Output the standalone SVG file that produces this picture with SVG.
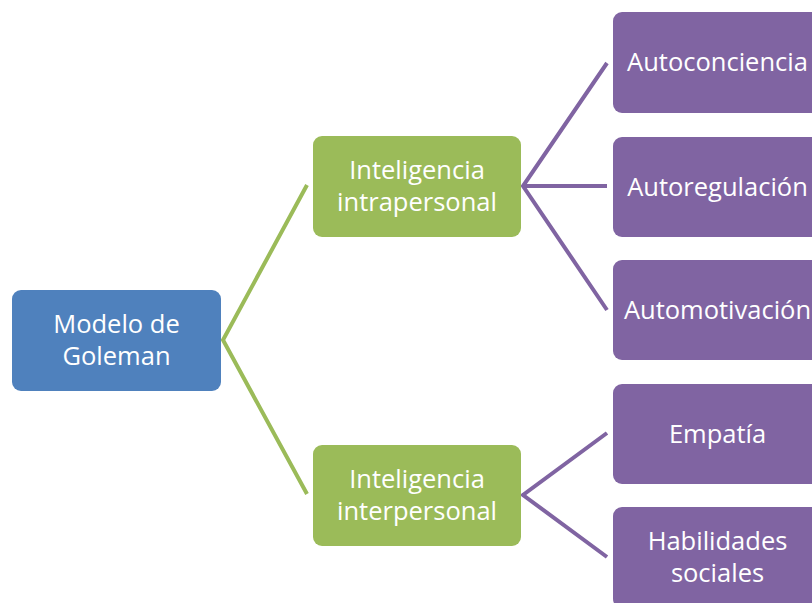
<svg xmlns="http://www.w3.org/2000/svg" width="812" height="603" viewBox="0 0 812 603">
<style>
.t{font-family:"Open Sans","Liberation Sans",sans-serif;font-size:25.5px;fill:#fff;text-anchor:middle}
.blue{fill:#4F81BD}
.green{fill:#9BBB59}
.purple{fill:#8064A2}
.cg{stroke:#9BBB59;stroke-width:4;fill:none;stroke-linejoin:miter}
.cp{stroke:#8064A2;stroke-width:4;fill:none;stroke-linejoin:miter}
</style>
<rect width="812" height="603" fill="#fff"/>
<g id="connectors">
<polyline class="cg" points="307,185 223,340 307,494"/>
<polyline class="cp" points="607,63 523,186 607,310"/>
<line class="cp" x1="523" y1="186" x2="607" y2="186"/>
<polyline class="cp" points="607,433 523,495 607,557"/>
</g>
<g id="modelo">
<rect class="blue" x="12" y="290" width="209" height="101" rx="9"/>
<text class="t" x="116.5" y="333">Modelo de</text>
<text class="t" x="116.5" y="365">Goleman</text>
</g>
<g id="intrapersonal">
<rect class="green" x="313" y="136" width="208" height="101" rx="9"/>
<text class="t" x="417" y="179">Inteligencia</text>
<text class="t" x="417" y="211">intrapersonal</text>
</g>
<g id="interpersonal">
<rect class="green" x="313" y="445" width="208" height="101" rx="9"/>
<text class="t" x="417" y="488">Inteligencia</text>
<text class="t" x="417" y="520">interpersonal</text>
</g>
<g id="autoconciencia">
<rect class="purple" x="613" y="12" width="209" height="101" rx="9"/>
<text class="t" x="717.5" y="71">Autoconciencia</text>
</g>
<g id="autoregulacion">
<rect class="purple" x="613" y="137" width="209" height="100" rx="9"/>
<text class="t" x="717.5" y="196">Autoregulación</text>
</g>
<g id="automotivacion">
<rect class="purple" x="613" y="260" width="209" height="100" rx="9"/>
<text class="t" x="717.5" y="319">Automotivación</text>
</g>
<g id="empatia">
<rect class="purple" x="613" y="384" width="209" height="100" rx="9"/>
<text class="t" x="717.5" y="443">Empatía</text>
</g>
<g id="habilidades">
<rect class="purple" x="613" y="507" width="209" height="101" rx="9"/>
<text class="t" x="717.5" y="550">Habilidades</text>
<text class="t" x="717.5" y="582">sociales</text>
</g>
</svg>
